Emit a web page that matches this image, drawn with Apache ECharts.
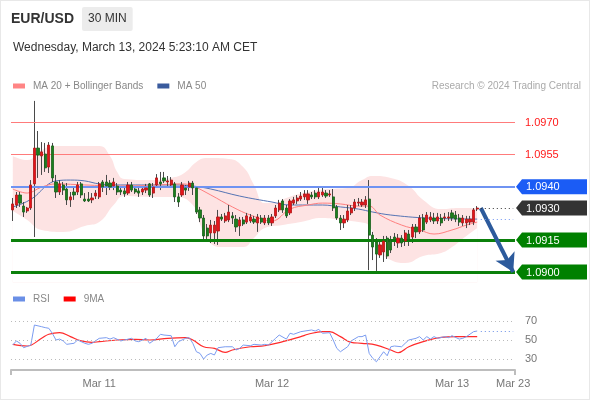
<!DOCTYPE html>
<html>
<head>
<meta charset="utf-8">
<script src="https://cdn.jsdelivr.net/npm/echarts@6/dist/echarts.min.js"></script>
<style>
html,body{margin:0;padding:0;background:#fff;}
#wrap{position:relative;width:590px;height:400px;}
#chart{position:absolute;left:0;top:0;width:590px;height:400px;}
#frame{position:absolute;left:0;top:0;width:590px;height:400px;box-sizing:border-box;border:1px solid #e8e8e8;pointer-events:none;}
</style>
</head>
<body>
<div id="wrap"><div id="chart"></div><div id="frame"></div></div>
<script>
// ---------- DATA ----------
const symbol = 'EUR/USD';
const timeframe = '30 MIN';
const stamp = 'Wednesday, March 13, 2024 5:23:10 AM CET';
const credit = 'Research \u00A9 2024 Trading Central';

// date tick labels (category index -> label)
const dateTickIndex = [24, 72, 122, 139];
const dateTickLabel = ['Mar 11', 'Mar 12', 'Mar 13', 'Mar 23'];
const categoryCount = 140;

// candles: [open, close, low, high]
const candles = [
[1.09291,1.09319,1.09239,1.09347],[1.09314,1.09361,1.09300,1.09375],[1.09361,1.09323,1.09305,1.09375],[1.09309,1.09281,1.09258,1.09328],
[1.09286,1.09300,1.09277,1.09305],[1.09300,1.09408,1.09291,1.09431],[1.09413,1.09581,1.09164,1.09802],[1.09581,1.09548,1.09441,1.09661],
[1.09544,1.09563,1.09455,1.09609],[1.09553,1.09488,1.09469,1.09605],[1.09492,1.09595,1.09464,1.09609],[1.09591,1.09441,1.09422,1.09605],
[1.09422,1.09375,1.09347,1.09455],[1.09375,1.09413,1.09361,1.09431],[1.09408,1.09384,1.09361,1.09422],[1.09389,1.09338,1.09314,1.09417],
[1.09338,1.09352,1.09305,1.09375],[1.09375,1.09361,1.09338,1.09394],[1.09375,1.09408,1.09361,1.09422],[1.09413,1.09361,1.09347,1.09422],
[1.09342,1.09333,1.09328,1.09370],[1.09342,1.09333,1.09328,1.09375],[1.09338,1.09347,1.09323,1.09370],[1.09356,1.09370,1.09342,1.09384],
[1.09352,1.09413,1.09342,1.09422],[1.09422,1.09398,1.09375,1.09431],[1.09422,1.09403,1.09361,1.09455],[1.09417,1.09398,1.09384,1.09431],
[1.09403,1.09422,1.09384,1.09441],[1.09403,1.09375,1.09361,1.09417],[1.09384,1.09375,1.09361,1.09403],[1.09380,1.09366,1.09352,1.09394],
[1.09370,1.09408,1.09361,1.09422],[1.09408,1.09384,1.09375,1.09422],[1.09389,1.09375,1.09366,1.09403],[1.09380,1.09370,1.09352,1.09394],
[1.09375,1.09389,1.09361,1.09403],[1.09384,1.09394,1.09370,1.09413],[1.09413,1.09361,1.09352,1.09417],[1.09370,1.09398,1.09347,1.09417],
[1.09408,1.09441,1.09394,1.09459],[1.09422,1.09413,1.09384,1.09469],[1.09441,1.09427,1.09417,1.09469],[1.09422,1.09427,1.09398,1.09450],
[1.09408,1.09431,1.09394,1.09445],[1.09413,1.09352,1.09328,1.09422],[1.09352,1.09328,1.09305,1.09370],[1.09361,1.09408,1.09352,1.09422],
[1.09394,1.09384,1.09361,1.09408],[1.09398,1.09417,1.09380,1.09427],[1.09417,1.09394,1.09361,1.09427],[1.09394,1.09281,1.09272,1.09403],
[1.09291,1.09253,1.09234,1.09305],[1.09253,1.09169,1.09150,1.09267],[1.09206,1.09169,1.09141,1.09225],[1.09183,1.09220,1.09136,1.09244],
[1.09183,1.09220,1.09131,1.09239],[1.09192,1.09258,1.09127,1.09291],[1.09258,1.09248,1.09239,1.09272],[1.09239,1.09263,1.09230,1.09277],
[1.09244,1.09281,1.09234,1.09314],[1.09263,1.09253,1.09225,1.09281],[1.09248,1.09211,1.09188,1.09267],[1.09216,1.09244,1.09169,1.09258],
[1.09244,1.09225,1.09216,1.09258],[1.09234,1.09263,1.09225,1.09277],[1.09239,1.09258,1.09230,1.09272],[1.09248,1.09234,1.09225,1.09263],
[1.09230,1.09258,1.09188,1.09272],[1.09253,1.09234,1.09225,1.09267],[1.09230,1.09253,1.09220,1.09267],[1.09253,1.09230,1.09220,1.09267],
[1.09230,1.09258,1.09216,1.09272],[1.09263,1.09300,1.09253,1.09314],[1.09291,1.09323,1.09281,1.09338],[1.09333,1.09291,1.09277,1.09342],
[1.09300,1.09263,1.09253,1.09314],[1.09277,1.09333,1.09267,1.09342],[1.09323,1.09338,1.09314,1.09352],[1.09333,1.09347,1.09319,1.09361],
[1.09342,1.09356,1.09333,1.09375],[1.09352,1.09366,1.09338,1.09384],[1.09338,1.09366,1.09319,1.09384],[1.09361,1.09352,1.09342,1.09375],
[1.09370,1.09352,1.09342,1.09384],[1.09352,1.09375,1.09342,1.09394],[1.09361,1.09375,1.09352,1.09394],[1.09370,1.09356,1.09347,1.09384],
[1.09361,1.09366,1.09352,1.09384],[1.09352,1.09300,1.09286,1.09389],[1.09305,1.09253,1.09244,1.09314],[1.09253,1.09230,1.09197,1.09267],
[1.09230,1.09248,1.09206,1.09267],[1.09244,1.09286,1.09234,1.09314],[1.09277,1.09300,1.09267,1.09314],[1.09300,1.09328,1.09286,1.09342],
[1.09323,1.09328,1.09309,1.09347],[1.09314,1.09328,1.09305,1.09342],[1.09314,1.09338,1.09300,1.09356],[1.09342,1.09173,1.09009,1.09431],
[1.09173,1.09117,1.09056,1.09188],[1.09141,1.09084,1.09005,1.09159],[1.09080,1.09127,1.09066,1.09150],[1.09094,1.09145,1.09047,1.09169],
[1.09159,1.09075,1.09061,1.09169],[1.09150,1.09103,1.09089,1.09169],[1.09164,1.09150,1.09122,1.09183],[1.09136,1.09159,1.09113,1.09178],
[1.09159,1.09136,1.09117,1.09173],[1.09145,1.09183,1.09122,1.09197],[1.09178,1.09150,1.09122,1.09197],[1.09164,1.09211,1.09136,1.09225],
[1.09211,1.09188,1.09159,1.09225],[1.09188,1.09253,1.09178,1.09267],[1.09253,1.09197,1.09188,1.09272],[1.09234,1.09267,1.09225,1.09281],
[1.09244,1.09258,1.09234,1.09281],[1.09253,1.09239,1.09225,1.09277],[1.09239,1.09258,1.09225,1.09277],[1.09253,1.09230,1.09216,1.09272],
[1.09253,1.09258,1.09239,1.09277],[1.09253,1.09258,1.09239,1.09281],[1.09277,1.09253,1.09239,1.09291],[1.09267,1.09248,1.09234,1.09286],
[1.09253,1.09234,1.09216,1.09272],[1.09230,1.09253,1.09216,1.09267],[1.09230,1.09248,1.09206,1.09263],[1.09234,1.09248,1.09220,1.09263],
[1.09234,1.09291,1.09220,1.09300],[1.09295,1.09300,1.09286,1.09309]
];

// indicator readings: [candle index, value]
const ma20 = [[0,1.09389],[4,1.09370],[8,1.09398],[12,1.09413],[20,1.09408],[30,1.09403],[40,1.09408],[47,1.09413],[50,1.09403],[55,1.09361],[61,1.09305],[66,1.09267],[72,1.09239],[77,1.09295],[82,1.09314],[86,1.09323],[91,1.09319],[96,1.09309],[99,1.09309],[102,1.09267],[108,1.09220],[113,1.09197],[117,1.09178],[122,1.09197],[126,1.09220],[129,1.09234]];
const ma50 = [[0,1.09305],[3,1.09323],[6,1.09352],[8,1.09384],[10,1.09413],[12,1.09427],[16,1.09431],[20,1.09427],[24,1.09413],[30,1.09408],[38,1.09408],[45,1.09408],[50,1.09403],[55,1.09389],[63,1.09356],[72,1.09328],[77,1.09314],[86,1.09314],[91,1.09305],[96,1.09295],[100,1.09281],[105,1.09267],[115,1.09253],[129,1.09248]];
const bbUpper = [[0,1.09544],[4,1.09525],[8,1.09572],[12,1.09591],[20,1.09591],[24,1.09591],[27,1.09544],[29,1.09469],[31,1.09436],[38,1.09431],[45,1.09445],[48,1.09469],[51,1.09516],[54,1.09534],[60,1.09530],[64,1.09492],[67,1.09408],[70,1.09323],[73,1.09323],[76,1.09347],[82,1.09375],[88,1.09389],[93,1.09394],[97,1.09431],[100,1.09450],[105,1.09441],[110,1.09403],[114,1.09338],[119,1.09295],[124,1.09300],[129,1.09300]];
const bbLower = [[0,1.09286],[4,1.09244],[8,1.09197],[14,1.09188],[20,1.09216],[24,1.09234],[28,1.09314],[31,1.09356],[38,1.09352],[45,1.09352],[50,1.09314],[52,1.09225],[54,1.09150],[58,1.09117],[64,1.09117],[67,1.09159],[70,1.09206],[75,1.09220],[80,1.09234],[86,1.09253],[91,1.09244],[96,1.09234],[99,1.09216],[102,1.09103],[105,1.09056],[109,1.09042],[114,1.09075],[119,1.09089],[122,1.09117],[126,1.09169],[129,1.09206]];
const rsi = [[0,44.7],[1,49],[2,46.5],[3,41.8],[5,44.6],[6,66],[8,64.2],[9,63.2],[10,62.5],[11,57],[12,50],[13,51],[14,49],[15,45.4],[17,46.5],[18,50],[20,46.5],[21,45.4],[22,46.5],[24,51.8],[26,52.5],[27,51],[28,52.5],[30,49],[31,50],[33,51.8],[34,49],[35,48.2],[37,51.8],[38,46.5],[40,51.8],[41,56.1],[42,55.3],[44,54.6],[45,42.8],[46,48.2],[48,51.8],[49,52.5],[50,46.5],[51,37.5],[52,35.7],[53,29.7],[54,34],[55,35.7],[56,34],[57,41.8],[59,42.8],[61,42.8],[62,39.3],[63,41.1],[64,44.6],[66,43.9],[67,45.4],[69,44.6],[70,45.4],[71,44.6],[73,51.8],[74,55.3],[76,51],[77,57.2],[78,56.1],[80,58.9],[83,60.7],[84,59.6],[85,61.4],[86,57.2],[88,57.8],[89,50],[90,41.1],[91,37.5],[93,42.8],[94,49],[96,53.6],[97,53.6],[98,55.3],[99,35.7],[100,30.4],[101,26.8],[102,32.1],[103,37.5],[104,33.2],[105,42.8],[106,43.6],[108,42.8],[109,46.5],[110,50],[112,51.8],[113,53.6],[114,50],[115,53.6],[116,51],[117,53.6],[118,51.8],[120,53.6],[121,52.5],[122,54.6],[124,51],[125,51.8],[126,53.6],[128,58.9],[129,59.6]];
const rsiMa = [[0,45.4],[4,43.6],[8,51.8],[10,56.1],[13,57.8],[16,53.6],[19,49],[22,47.5],[24,48.2],[29,50],[34,50.7],[38,50],[43,51.8],[48,52.5],[50,50],[53,42.8],[56,41.1],[59,36.8],[61,39.3],[66,42.8],[70,43.9],[75,48.2],[80,53.6],[82,56.1],[86,58.9],[88,58.9],[91,53.6],[94,47.5],[97,46.5],[101,44.6],[105,39.3],[107,36.4],[110,42.8],[114,48.2],[119,52.9],[123,53.6],[129,53.6]];
const rsiLevels = [70, 50, 30];

// key levels
const resistances = [1.0970, 1.0955];
const pivot = 1.0940;
const lastPrice = 1.0930;
const supports = [1.0915, 1.0900];
const forecastTarget = 1.0900;

// ---------- BUILD ----------
const FONT = 'Liberation Sans, Arial, Helvetica, sans-serif';
const lastCat = categoryCount - 1;
const lastCandle = candles.length - 1;
const categories = Array.from({length: categoryCount}, (_, i) => {
  const k = dateTickIndex.indexOf(i);
  return k >= 0 ? dateTickLabel[k] : '';
});
const wickData = candles.map(c => [c[0], c[1], c[2], c[3]]);
const bodyData = candles.map(c => [c[0], c[1], Math.min(c[0], c[1]), Math.max(c[0], c[1])]);

function boxSeries(price, color) {
  return {
    type: 'custom', xAxisIndex: 0, yAxisIndex: 0, z: 20, silent: true, clip: false,
    data: [[lastCat, price]],
    renderItem: function (params, api) {
      const pt = api.coord([api.value(0), api.value(1)]);
      const half = api.size([1, 0])[0] / 2;
      const x0 = pt[0] + half + 1;
      const y = pt[1];
      return {
        type: 'group',
        children: [
          { type: 'polygon', shape: { points: [[x0, y], [x0 + 6, y - 7.5], [x0 + 71, y - 7.5], [x0 + 71, y + 7.5], [x0 + 6, y + 7.5]] }, style: { fill: color } },
          { type: 'text', style: { text: price.toFixed(4), x: x0 + 10, y: y + 0.5, verticalAlign: 'middle', align: 'left', fill: '#fff', font: '11px ' + FONT } }
        ]
      };
    }
  };
}

function levelSeries(value, lineStyle, label) {
  return { type: 'line', xAxisIndex: 0, yAxisIndex: 0, data: [], z: 2, silent: true,
    markLine: { silent: true, precision: 6, symbol: ['none', 'none'], animation: false, lineStyle: lineStyle,
      label: label || { show: false },
      data: [{ yAxis: value }] } };
}

const chart = echarts.init(document.getElementById('chart'), null, { renderer: 'canvas' });
const option = {
  animation: false,
  textStyle: { fontFamily: FONT },
  title: [
    { text: symbol, left: 11, top: 12, padding: 0, textStyle: { fontSize: 14, fontWeight: 'bold', color: '#333', fontFamily: FONT } },
    { text: timeframe, left: 82, top: 7, padding: [6, 6, 6, 6], backgroundColor: '#ececec', borderRadius: 2, textStyle: { fontSize: 12, fontWeight: 'normal', color: '#333', fontFamily: FONT } },
    { text: stamp, left: 13, top: 42, padding: 0, textStyle: { fontSize: 12, fontWeight: 'normal', color: '#333', fontFamily: FONT } },
    { text: credit, right: 9, top: 81, padding: 0, textStyle: { fontSize: 10, fontWeight: 'normal', color: '#aaa', fontFamily: FONT } }
  ],
  legend: [
    { left: 13, top: 81, padding: 0, itemWidth: 12, itemHeight: 5, itemGap: 14, icon: 'rect', selectedMode: false,
      textStyle: { fontSize: 10, color: '#888', padding: [0, 0, 0, 3] },
      data: [{ name: 'MA 20 + Bollinger Bands', itemStyle: { color: '#ff8585' } }, { name: 'MA 50', itemStyle: { color: '#3a5b9d' } }] },
    { left: 13, top: 294, padding: 0, itemWidth: 12, itemHeight: 5, itemGap: 14, icon: 'rect', selectedMode: false,
      textStyle: { fontSize: 10, color: '#888', padding: [0, 0, 0, 3] },
      data: [{ name: 'RSI', itemStyle: { color: '#6a8fe6' } }, { name: '9MA', itemStyle: { color: '#ff0000' } }] }
  ],
  grid: [
    { left: 11, right: 75, top: 99.2, height: 183.47 },
    { left: 11, right: 75, top: 310, height: 60 }
  ],
  xAxis: [
    { type: 'category', gridIndex: 0, data: categories, boundaryGap: true, show: false },
    { type: 'category', gridIndex: 1, data: categories, boundaryGap: true, position: 'bottom',
      axisLine: { show: false }, axisTick: { show: false },
      axisLabel: { interval: 0, margin: 8, fontSize: 11, color: '#777', showMinLabel: true, showMaxLabel: true, hideOverlap: false } },
    { type: 'value', gridIndex: 1, min: 0, max: 1, interval: 1, position: 'bottom',
      axisLine: { show: true, lineStyle: { color: '#bdbdbd', width: 2 } },
      axisTick: { show: true, length: 5, lineStyle: { color: '#bdbdbd', width: 2 } },
      axisLabel: { show: false }, splitLine: { show: false } }
  ],
  yAxis: [
    { type: 'value', gridIndex: 0, min: 1.0895, max: 1.0981, show: false, splitLine: { show: false } },
    { type: 'value', gridIndex: 1, min: 18, max: 82, show: false, splitLine: { show: false } }
  ],
  series: [
    { name: 'bbUpper', type: 'line', xAxisIndex: 0, yAxisIndex: 0, data: bbUpper, smooth: 0.5, symbol: 'none', silent: true, z: 1,
      lineStyle: { width: 0 }, areaStyle: { color: '#fde3e3', opacity: 1, origin: 'start' } },
    { name: 'bbLower', type: 'line', xAxisIndex: 0, yAxisIndex: 0, data: bbLower, smooth: 0.5, symbol: 'none', silent: true, z: 1,
      lineStyle: { width: 0 }, areaStyle: { color: '#ffffff', opacity: 1, origin: 'start' } },
    ...resistances.map(v => levelSeries(v, { color: '#ff7b7b', width: 1, type: 'solid' },
      { show: true, position: 'end', distance: 10, formatter: v.toFixed(4), color: '#ff1a1a', fontSize: 11, fontFamily: FONT })),
    levelSeries(pivot, { color: '#6f93f2', width: 2, type: 'solid' }),
    ...supports.map(v => levelSeries(v, { color: '#0b800b', width: 3, type: 'solid' })),
    { name: 'MA 50', type: 'line', xAxisIndex: 0, yAxisIndex: 0, data: ma50, smooth: 0.4, symbol: 'none', z: 3,
      lineStyle: { color: '#5574b4', width: 1 }, itemStyle: { color: '#3a5b9d' } },
    { name: 'MA 20 + Bollinger Bands', type: 'line', xAxisIndex: 0, yAxisIndex: 0, data: ma20, smooth: 0.4, symbol: 'none', z: 3,
      lineStyle: { color: '#ff8080', width: 1 }, itemStyle: { color: '#ff8585' } },
    { name: 'wicks', type: 'candlestick', xAxisIndex: 0, yAxisIndex: 0, data: wickData, barWidth: 1, z: 4, silent: true,
      itemStyle: { color: '#4a4a4a', color0: '#4a4a4a', borderColor: '#4a4a4a', borderColor0: '#4a4a4a', borderWidth: 1 } },
    { name: 'bodies', type: 'candlestick', xAxisIndex: 0, yAxisIndex: 0, data: bodyData, barWidth: 2.6, z: 5, silent: true,
      itemStyle: { color: '#e5141a', color0: '#1d7f1d', borderColor: '#b01515', borderColor0: '#17611a', borderWidth: 0.8 },
      markLine: { silent: true, precision: 6, symbol: ['none', 'none'], animation: false, z: 6,
        data: [
          [{ coord: [lastCandle + 1, lastPrice], lineStyle: { color: '#333', width: 1, type: [1, 3] } }, { coord: [lastCat, lastPrice] }],
          [{ coord: [lastCandle + 1, ma50[ma50.length - 1][1]], lineStyle: { color: '#6f93f2', width: 1, type: [1, 3] } }, { coord: [lastCat, ma50[ma50.length - 1][1]] }]
        ], label: { show: false } } },
    { name: 'forecast', type: 'line', xAxisIndex: 0, yAxisIndex: 0, data: [], z: 8, silent: true,
      markLine: { silent: true, precision: 6, symbol: ['none', 'arrow'], symbolSize: [16, 18], animation: false,
        label: { show: false },
        lineStyle: { color: '#2c5a9c', width: 4, type: 'solid' },
        data: [[{ coord: [lastCandle + 1, lastPrice] }, { coord: [lastCat, forecastTarget] }]] } },
    boxSeries(pivot, '#1b5cf5'),
    boxSeries(lastPrice, '#333333'),
    ...supports.map(v => boxSeries(v, '#008000')),
    // RSI panel
    { name: 'rsiGrid', type: 'line', xAxisIndex: 1, yAxisIndex: 1, data: [], silent: true, z: 1,
      markLine: { silent: true, symbol: ['none', 'none'], animation: false,
        lineStyle: { color: '#bbbbbb', width: 1, type: [1, 3] },
        label: { show: true, position: 'end', distance: 10, color: '#777', fontSize: 11, fontFamily: FONT },
        data: rsiLevels.map(v => ({ yAxis: v, label: { formatter: String(v) } })) } },
    { name: '9MA', type: 'line', xAxisIndex: 1, yAxisIndex: 1, data: rsiMa, smooth: 0.4, symbol: 'none', z: 3,
      lineStyle: { color: '#ff2a2a', width: 1.2 }, itemStyle: { color: '#ff0000' } },
    { name: 'RSI', type: 'line', xAxisIndex: 1, yAxisIndex: 1, data: rsi, symbol: 'none', z: 4,
      lineStyle: { color: '#7b9cf0', width: 1 }, itemStyle: { color: '#6a8fe6' },
      markLine: { silent: true, symbol: ['none', 'none'], animation: false, label: { show: false },
        lineStyle: { color: '#6a8fe6', width: 1, type: [1, 3] },
        data: [[{ coord: [lastCandle + 1, rsi[rsi.length - 1][1]] }, { coord: [lastCat, rsi[rsi.length - 1][1]] }]] } }
  ]
};
chart.setOption(option);
</script>
</body>
</html>
